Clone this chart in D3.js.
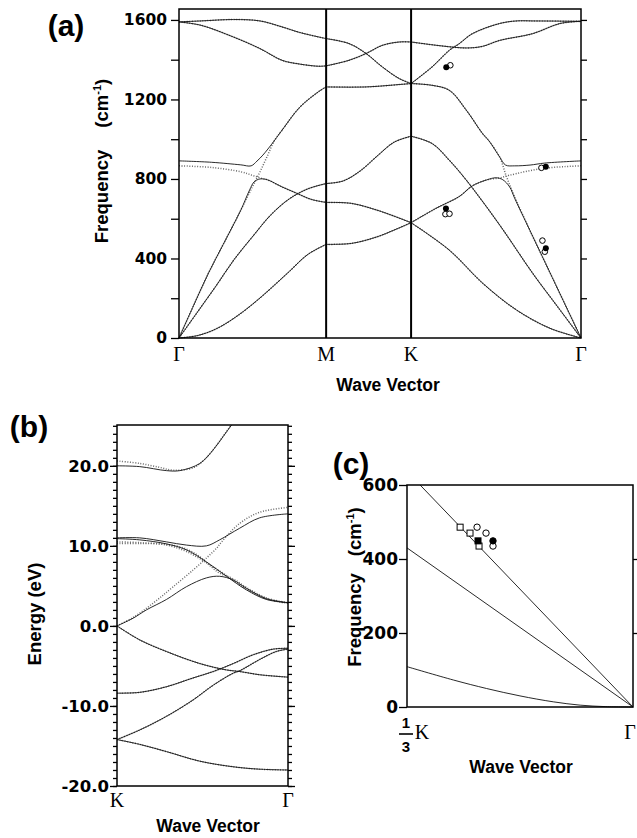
<!DOCTYPE html>
<html>
<head>
<meta charset="utf-8">
<script src="https://cdn.jsdelivr.net/npm/d3@7"></script>
<style>
  body { margin: 0; background: #fff; }
  svg { display: block; background: #fff; }
</style>
</head>
<body>
<svg width="637" height="838"></svg>
<script>
// ---------- panel (a): phonon dispersion along Γ-M-K-Γ ----------
// path positions in units of |ΓK|
var pathNames = ["Γ", "M", "K", "Γ"];
var pathNodes = [0, 0.866, 1.366, 2.366];
var freqTicks = [0, 400, 800, 1200, 1600];

// each piece: [fraction along piece, frequency cm-1]
var gmZA = [[0, 0], [0.125, 12], [0.25, 45], [0.375, 100], [0.5, 170], [0.625, 250], [0.75, 335], [0.875, 420], [1, 471]];
var gmTA = [[0, 0], [0.125, 130], [0.25, 260], [0.375, 395], [0.5, 510], [0.625, 620], [0.75, 700], [0.875, 750], [1, 777]];
var gmLA = [[0, 0], [0.1, 165], [0.2, 326], [0.3, 470], [0.42, 643], [0.48, 745], [0.51, 785], [0.55, 800], [0.6, 796], [0.7, 760], [0.8, 728], [0.9, 697], [1, 682]];
var gmLAdot = [[0, 0], [0.1, 165], [0.2, 326], [0.3, 470], [0.42, 643], [0.5, 762], [0.55, 835], [0.6, 915], [0.65, 995], [0.7, 1045], [0.82, 1160], [0.95, 1240], [1, 1263]];
var gmZO = [[0, 891], [0.22, 884], [0.42, 871], [0.49, 866], [0.53, 890], [0.57, 920], [0.63, 975], [0.7, 1045], [0.82, 1160], [0.95, 1240], [1, 1263]];
var gmZOdot = [[0, 866], [0.22, 858], [0.42, 836], [0.5, 818], [0.57, 801], [0.6, 796], [0.7, 760], [0.8, 728], [0.9, 697], [1, 682]];
var gmTO1 = [[0, 1590], [0.15, 1595], [0.37, 1602], [0.55, 1595], [0.7, 1565], [0.82, 1537], [1, 1506]];
var gmTO2 = [[0, 1590], [0.15, 1573], [0.37, 1514], [0.55, 1456], [0.7, 1397], [0.82, 1378], [0.95, 1367], [1, 1369]];

var mkZA = [[0, 471], [0.3, 476], [0.6, 509], [0.8, 543], [1, 580]];
var mkTA = [[0, 777], [0.2, 790], [0.4, 840], [0.6, 915], [0.8, 985], [1, 1015]];
var mkLA = [[0, 682], [0.3, 677], [0.6, 643], [0.8, 613], [1, 580]];
var mkZO = [[0, 1263], [0.47, 1263], [0.86, 1275], [1, 1280]];
var mkTO1 = [[0, 1506], [0.27, 1481], [0.47, 1431], [0.66, 1364], [0.86, 1305], [1, 1280]];
var mkTO2 = [[0, 1369], [0.27, 1397], [0.47, 1431], [0.66, 1472], [0.86, 1489], [1, 1489]];

var kgTO1 = [[0, 1280], [0.124, 1364], [0.225, 1447], [0.284, 1481], [0.361, 1531], [0.521, 1582], [0.621, 1595], [0.716, 1595], [1, 1593]];
var kgTO2 = [[0, 1489], [0.183, 1469], [0.325, 1459], [0.42, 1467], [0.521, 1497], [0.716, 1531], [0.876, 1582], [1, 1593]];
var kgZO = [[0, 1280], [0.124, 1271], [0.225, 1246], [0.325, 1146], [0.42, 1029], [0.46, 990], [0.521, 911], [0.556, 870], [0.61, 866], [0.7, 870], [0.787, 880], [1, 891]];
var kgZOdot = [[0, 1280], [0.124, 1271], [0.225, 1246], [0.325, 1146], [0.42, 1029], [0.46, 990], [0.521, 911], [0.56, 815], [0.61, 710], [0.7, 540], [0.85, 270], [1, 0]];
var kgLA = [[0, 580], [0.146, 652], [0.284, 712], [0.36, 765], [0.444, 795], [0.5, 806], [0.54, 796], [0.58, 760], [0.61, 702], [0.7, 540], [0.85, 270], [1, 0]];
var kgLAdot = [[0, 580], [0.146, 652], [0.284, 712], [0.36, 765], [0.444, 795], [0.52, 805], [0.58, 819], [0.775, 853], [1, 866]];
var kgTA = [[0, 1015], [0.124, 978], [0.225, 894], [0.325, 794], [0.52, 570], [0.716, 325], [0.86, 160], [1, 0]];
var kgZA = [[0, 580], [0.225, 442], [0.422, 275], [0.62, 141], [0.817, 49], [1, 0]];

// measured points [path position, cm-1]
var aExpFilled = [[1.573, 1362], [1.571, 652], [2.159, 861], [2.159, 452]];
var aExpOpen = [[1.597, 1372], [1.568, 623], [1.592, 625], [2.133, 856], [2.139, 490], [2.153, 434]];

// ---------- panel (b): electronic bands K -> Γ (eV) ----------
var energyTicks = [-20, -10, 0, 10, 20];
var bTop = [[0, 20.0], [0.133, 19.9], [0.289, 19.4], [0.367, 19.4], [0.485, 20.3], [0.563, 22.0], [0.622, 23.7], [0.67, 25.1], [0.72, 26.6]];
var bTopDot = [[0, 20.6], [0.133, 20.3], [0.25, 19.8], [0.33, 19.45], [0.45, 19.8], [0.53, 21.2], [0.6, 23.1], [0.66, 24.9], [0.71, 26.6]];
var bUp = [[0, 11.0], [0.133, 11.0], [0.289, 10.5], [0.406, 10.1], [0.523, 10.0], [0.6, 10.75], [0.717, 12.2], [0.834, 13.5], [1, 14.0]];
var bDown = [[0, 10.9], [0.133, 10.75], [0.289, 10.25], [0.406, 9.5], [0.523, 8.0], [0.64, 6.2], [0.757, 4.5], [0.874, 3.3], [1, 2.9]];
var bPiStar = [[0, 0], [0.094, 0.96], [0.172, 2.0], [0.289, 3.3], [0.406, 4.9], [0.523, 6.0], [0.6, 6.2], [0.678, 5.75], [0.757, 4.7], [0.874, 3.4], [1, 2.9]];
var bDotA = [[0, 10.5], [0.133, 10.4], [0.289, 10.1], [0.406, 9.3], [0.523, 7.9], [0.64, 6.3], [0.757, 4.6], [0.874, 3.4], [1, 2.8]];
var bDotB = [[0, 0], [0.09, 1.0], [0.172, 2.2], [0.25, 3.5], [0.329, 4.9], [0.446, 7.0], [0.524, 8.5], [0.582, 9.7], [0.612, 10.5], [0.717, 12.8], [0.834, 14.2], [1, 14.8]];
var bDotC = [[0, 10.3], [0.133, 10.3], [0.289, 10.2], [0.406, 9.6], [0.48, 8.7], [0.55, 7.4], [0.6, 6.6], [0.678, 5.9], [0.757, 4.8], [0.874, 3.5], [1, 2.9]];
var bPi = [[0, 0], [0.133, -1.75], [0.289, -3.2], [0.484, -4.7], [0.64, -5.5], [0.718, -5.7], [0.834, -6.1], [1, -6.4]];
var bSigma1 = [[0, -8.4], [0.133, -8.3], [0.289, -7.6], [0.445, -6.5], [0.563, -5.7], [0.68, -4.7], [0.797, -3.6], [0.914, -2.9], [1, -2.8]];
var bSigma2 = [[0, -14.2], [0.133, -13.0], [0.289, -11.3], [0.445, -9.25], [0.563, -7.4], [0.68, -5.9], [0.718, -5.6], [0.834, -4.2], [0.931, -3.2], [1, -2.9]];
var bSigma3 = [[0, -14.2], [0.133, -14.8], [0.289, -15.7], [0.484, -16.9], [0.68, -17.6], [0.834, -17.9], [1, -18.0]];

// ---------- panel (c): acoustic branches, 1/3 K -> Γ ----------
var cFreqTicks = [0, 200, 400, 600];
var cLA = [[0.314, 600], [0, 0]];
var cTA = [[0.3333, 430], [0, 0]];
var cZA = [[0.3333, 109], [0.265, 73], [0.216, 50], [0.1667, 30], [0.1176, 14], [0.078, 5], [0.04, 1], [0, 0]];
var cOpenSq = [[0.255, 486], [0.2404, 470], [0.2271, 435]];
var cFillSq = [[0.2286, 449]];
var cOpenCirc = [[0.230, 486], [0.2168, 470], [0.2065, 435]];
var cFillCirc = [[0.2065, 449]];

var svg = d3.select("svg");
var sansFont = "'Liberation Sans', Arial, Helvetica, sans-serif";
var numFont = "'DejaVu Sans', 'Liberation Sans', sans-serif";
var serifFont = "'Liberation Serif', 'Times New Roman', serif";

function drawBands(g, list, x, y, dotted) {
    var line = d3.line()
        .x(function (d) { return x(d[0]); })
        .y(function (d) { return y(d[1]); })
        .curve(d3.curveCatmullRom.alpha(0.5));
    g.selectAll(null)
        .data(list)
        .enter().append("path")
        .attr("d", line)
        .attr("fill", "none")
        .attr("stroke", dotted ? "#6a6a6a" : "#111")
        .attr("stroke-width", dotted ? 1.5 : 0.9)
        .attr("stroke-dasharray", dotted ? "1,1.6" : null);
}

function styleAxis(g, size) {
    g.select(".domain").remove();
    g.selectAll("line").attr("stroke", "#000").attr("stroke-width", 1.3);
    g.selectAll("text")
        .attr("font-family", numFont)
        .attr("font-weight", "bold")
        .attr("font-size", size)
        .attr("fill", "#000");
}

function frame(x0, x1, y0, y1) {
    svg.append("rect")
        .attr("x", x0).attr("y", y0)
        .attr("width", x1 - x0).attr("height", y1 - y0)
        .attr("fill", "none")
        .attr("stroke", "#000")
        .attr("stroke-width", 1.5);
}

function label(txt, x, y, size, font, anchor) {
    return svg.append("text")
        .attr("x", x).attr("y", y)
        .attr("font-family", font || sansFont)
        .attr("font-weight", font === serifFont ? "normal" : "bold")
        .attr("font-size", size)
        .attr("text-anchor", anchor || "middle")
        .text(txt);
}

function freqTitle(x, y, gap, size) {
    var t = svg.append("text")
        .attr("transform", "translate(" + x + "," + y + ") rotate(-90)")
        .attr("font-family", sansFont)
        .attr("font-weight", "bold")
        .attr("font-size", size)
        .attr("text-anchor", "middle");
    t.append("tspan").text("Frequency");
    t.append("tspan").attr("dx", gap).text("(cm");
    t.append("tspan").attr("dy", -7).attr("font-size", size * 0.6).text("-1");
    t.append("tspan").attr("dy", 7).text(")");
}

// ===== panel (a) =====
var xa = d3.scaleLinear().domain([0, 2.366]).range([179, 581]);
var ya = d3.scaleLinear().domain([0, 1655]).range([338, 9]);

function onPath(piece, pts) {
    var s0 = pathNodes[piece], s1 = pathNodes[piece + 1];
    return pts.map(function (d) { return [s0 + d[0] * (s1 - s0), d[1]]; });
}

var aSolid = [
    onPath(0, gmZA), onPath(0, gmTA), onPath(0, gmLA), onPath(0, gmZO), onPath(0, gmTO1), onPath(0, gmTO2),
    onPath(1, mkZA), onPath(1, mkTA), onPath(1, mkLA), onPath(1, mkZO), onPath(1, mkTO1), onPath(1, mkTO2),
    onPath(2, kgZA), onPath(2, kgTA), onPath(2, kgLA), onPath(2, kgZO), onPath(2, kgTO1), onPath(2, kgTO2)
];
var aDotted = [
    onPath(0, gmZA), onPath(0, gmTA), onPath(0, gmLAdot), onPath(0, gmZOdot), onPath(0, gmTO1), onPath(0, gmTO2),
    onPath(1, mkZA), onPath(1, mkTA), onPath(1, mkLA), onPath(1, mkZO), onPath(1, mkTO1), onPath(1, mkTO2),
    onPath(2, kgZA), onPath(2, kgTA), onPath(2, kgLAdot), onPath(2, kgZOdot), onPath(2, kgTO1), onPath(2, kgTO2)
];

var ga = svg.append("g");
drawBands(ga, aDotted, xa, ya, true);
drawBands(ga, aSolid, xa, ya, false);

// high-symmetry verticals
svg.selectAll(null)
    .data(pathNodes.slice(1, 3))
    .enter().append("line")
    .attr("x1", function (d) { return xa(d); }).attr("x2", function (d) { return xa(d); })
    .attr("y1", ya.range()[1]).attr("y2", ya.range()[0])
    .attr("stroke", "#000").attr("stroke-width", 2);

frame(179, 581, 9, 338);

svg.append("g").attr("transform", "translate(179,0)")
    .call(d3.axisLeft(ya).tickValues(d3.range(0, 1601, 200)).tickSize(8).tickPadding(4)
        .tickFormat(function (d) { return freqTicks.indexOf(d) >= 0 ? d : ""; }))
    .call(function (g) { styleAxis(g, 15.5); });
svg.append("g").attr("transform", "translate(581,0)")
    .call(d3.axisRight(ya).tickValues(d3.range(200, 1601, 200)).tickSize(6).tickFormat(""))
    .call(function (g) { styleAxis(g, 15); });

ga.selectAll(null).data(aExpOpen).enter().append("circle")
    .attr("cx", function (d) { return xa(d[0]); }).attr("cy", function (d) { return ya(d[1]); })
    .attr("r", 2.8).attr("fill", "#fff").attr("stroke", "#000").attr("stroke-width", 1);
ga.selectAll(null).data(aExpFilled).enter().append("circle")
    .attr("cx", function (d) { return xa(d[0]); }).attr("cy", function (d) { return ya(d[1]); })
    .attr("r", 3).attr("fill", "#000");

pathNames.forEach(function (n, i) {
    label(n, xa(pathNodes[i]), 361, 20, serifFont);
});
label("(a)", 66, 36, 30);
freqTitle(108, 161, 22, 18.5);
label("Wave Vector", 388, 391, 17.5);

// ===== panel (b) =====
var xb = d3.scaleLinear().domain([0, 1]).range([117, 288]);
var yb = d3.scaleLinear().domain([-20, 25.1]).range([786, 425]);

svg.append("clipPath").attr("id", "clipb")
    .append("rect").attr("x", 117).attr("y", 425).attr("width", 171).attr("height", 361);
var gb = svg.append("g").attr("clip-path", "url(#clipb)");
drawBands(gb, [bTopDot, bDotA, bDotB, bDotC, bPi, bSigma1, bSigma2, bSigma3], xb, yb, true);
drawBands(gb, [bTop, bUp, bDown, bPiStar, bPi, bSigma1, bSigma2, bSigma3], xb, yb, false);

frame(117, 288, 425, 786);

svg.append("g").attr("transform", "translate(117,0)")
    .call(d3.axisLeft(yb).tickValues(d3.range(-20, 26, 1)).tickSize(4).tickFormat(""))
    .call(function (g) { styleAxis(g, 16); });
svg.append("g").attr("transform", "translate(117,0)")
    .call(d3.axisLeft(yb).tickValues(energyTicks).tickSize(7).tickPadding(1)
        .tickFormat(function (d) { return d.toFixed(1); }))
    .call(function (g) { styleAxis(g, 16.5); });
svg.append("g").attr("transform", "translate(288,0)")
    .call(d3.axisRight(yb).tickValues(d3.range(-20, 26, 1)).tickSize(4).tickFormat(""))
    .call(function (g) { styleAxis(g, 16); });
svg.append("g").attr("transform", "translate(288,0)")
    .call(d3.axisRight(yb).tickValues(energyTicks).tickSize(7).tickFormat(""))
    .call(function (g) { styleAxis(g, 16); });

label("K", 117, 807, 20, serifFont);
label("Γ", 288, 807, 20, serifFont);
label("(b)", 29, 437, 30);
svg.append("text")
    .attr("transform", "translate(41,614) rotate(-90)")
    .attr("font-family", sansFont).attr("font-weight", "bold")
    .attr("font-size", 18.5).attr("text-anchor", "middle")
    .text("Energy (eV)");
label("Wave Vector", 208, 832, 17.5);

// ===== panel (c) =====
var xc = d3.scaleLinear().domain([1 / 3, 0]).range([407, 633]);
var yc = d3.scaleLinear().domain([0, 600]).range([707, 485]);

var gc = svg.append("g");
drawBands(gc, [cLA, cTA, cZA], xc, yc, false);

frame(407, 633, 485, 707);

svg.append("g").attr("transform", "translate(407,0)")
    .call(d3.axisLeft(yc).tickValues(cFreqTicks).tickSize(8).tickPadding(1))
    .call(function (g) { styleAxis(g, 17); });
svg.append("g").attr("transform", "translate(633,0)")
    .call(d3.axisRight(yc).tickValues([200, 400]).tickSize(4).tickFormat(""))
    .call(function (g) { styleAxis(g, 16); });

var sq = 6;
gc.selectAll(null).data(cOpenSq.concat(cFillSq)).enter().append("rect")
    .attr("x", function (d) { return xc(d[0]) - sq / 2; })
    .attr("y", function (d) { return yc(d[1]) - sq / 2; })
    .attr("width", sq).attr("height", sq)
    .attr("fill", function (d) { return cFillSq.indexOf(d) >= 0 ? "#000" : "#fff"; })
    .attr("stroke", "#000").attr("stroke-width", 1);
gc.selectAll(null).data(cOpenCirc.concat(cFillCirc)).enter().append("circle")
    .attr("cx", function (d) { return xc(d[0]); }).attr("cy", function (d) { return yc(d[1]); })
    .attr("r", 3.2)
    .attr("fill", function (d) { return cFillCirc.indexOf(d) >= 0 ? "#000" : "#fff"; })
    .attr("stroke", "#000").attr("stroke-width", 1);

// 1/3 K tick label
label("1", xc(1 / 3) - 1, 728, 15, sansFont);
svg.append("line").attr("x1", 399).attr("x2", 413).attr("y1", 734).attr("y2", 734)
    .attr("stroke", "#000").attr("stroke-width", 1.6);
label("3", xc(1 / 3) - 1, 752, 15, sansFont);
label("K", 422, 739, 20, serifFont);
label("Γ", 630, 739, 20, serifFont);
label("(c)", 351, 474, 30);
freqTitle(361, 587, 17, 18.5);
label("Wave Vector", 521, 773, 17.5);
</script>
</body>
</html>
